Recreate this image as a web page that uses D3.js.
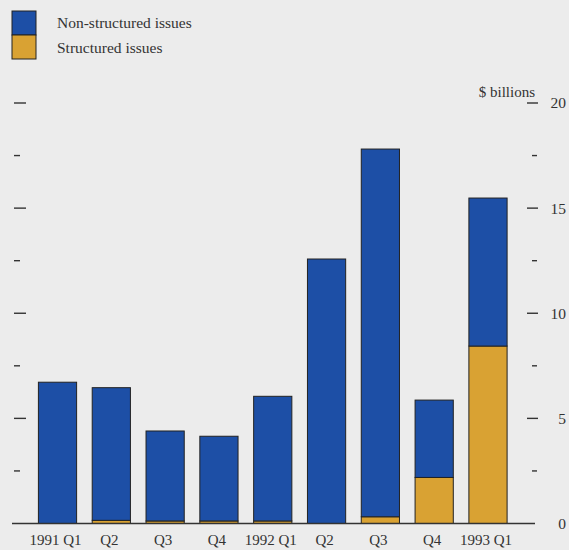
<!DOCTYPE html>
<html>
<head>
<meta charset="utf-8">
<script src="https://cdn.jsdelivr.net/npm/d3@7"></script>
<style>
  html, body { margin: 0; padding: 0; background: #ececec; }
  svg { display: block; font-family: "Liberation Serif", "Times New Roman", serif; }
</style>
</head>
<body>
<svg id="chart" width="569" height="550"></svg>
<script>
// Quarterly issuance, $ billions
const quarters = ["1991 Q1", "Q2", "Q3", "Q4", "1992 Q1", "Q2 ", "Q3 ", "Q4 ", "1993 Q1"];
const nonStructured = [6.72, 6.31, 4.28, 4.03, 5.93, 12.58, 17.49, 3.68, 7.04];
const structured = [0, 0.15, 0.12, 0.12, 0.12, 0, 0.32, 2.19, 8.44];
const seriesNames = ["Non-structured issues", "Structured issues"];
const majorTicks = [0, 5, 10, 15, 20];
const minorTicks = [2.5, 7.5, 12.5, 17.5];

const colors = { "Structured issues": "#d9a233", "Non-structured issues": "#1d4fa6" };
const ink = "#333";

const svg = d3.select("#chart");

const x = d3.scaleBand()
  .domain(quarters)
  .range([30.6, 514.9])
  .paddingInner(0.29)
  .paddingOuter(0.145);

const y = d3.scaleLinear().domain([0, 20]).range([523.5, 103]);

// Stack: structured at the bottom, non-structured on top
const rows = quarters.map((q, i) => ({
  q,
  "Structured issues": structured[i],
  "Non-structured issues": nonStructured[i]
}));
const stack = d3.stack().keys(["Structured issues", "Non-structured issues"])(rows);

svg.append("g")
  .selectAll("g")
  .data(stack)
  .join("g")
  .attr("fill", d => colors[d.key])
  .selectAll("rect")
  .data(d => d.filter(s => s[1] - s[0] > 0))
  .join("rect")
  .attr("x", d => x(d.data.q))
  .attr("width", x.bandwidth())
  .attr("y", d => y(d[1]))
  .attr("height", d => y(d[0]) - y(d[1]))
  .attr("stroke", "#222")
  .attr("stroke-width", 1);

// Baseline
svg.append("line")
  .attr("x1", 12).attr("x2", 535)
  .attr("y1", y(0)).attr("y2", y(0))
  .attr("stroke", ink).attr("stroke-width", 1.3);

// Left tick marks (no labels)
const leftTicks = svg.append("g").attr("stroke", ink).attr("stroke-width", 1.4);
leftTicks.selectAll(".maj").data(majorTicks.filter(v => v > 0)).join("line")
  .attr("x1", 14).attr("x2", 26)
  .attr("y1", d => y(d)).attr("y2", d => y(d));
leftTicks.selectAll(".min").data(minorTicks).join("line")
  .attr("x1", 14).attr("x2", 20)
  .attr("y1", d => y(d)).attr("y2", d => y(d));

// Right axis: ticks and labels
const rightTicks = svg.append("g").attr("stroke", ink).attr("stroke-width", 1.4);
rightTicks.selectAll(".maj").data(majorTicks.filter(v => v > 0)).join("line")
  .attr("x1", 527).attr("x2", 538)
  .attr("y1", d => y(d)).attr("y2", d => y(d));
rightTicks.selectAll(".min").data(minorTicks).join("line")
  .attr("x1", 532).attr("x2", 537)
  .attr("y1", d => y(d)).attr("y2", d => y(d));

svg.append("g")
  .selectAll("text")
  .data(majorTicks)
  .join("text")
  .attr("x", 566)
  .attr("y", d => y(d))
  .attr("dy", "0.35em")
  .attr("text-anchor", "end")
  .attr("fill", ink)
  .attr("font-size", 15.5)
  .text(d => d);

svg.append("text")
  .attr("x", 535).attr("y", 97)
  .attr("text-anchor", "end")
  .attr("fill", ink)
  .attr("font-size", 15)
  .text("$ billions");

// Category labels
svg.append("g")
  .selectAll("text")
  .data(quarters)
  .join("text")
  .attr("x", d => x(d) + x.bandwidth() / 2 - 2)
  .attr("y", 545)
  .attr("text-anchor", "middle")
  .attr("fill", ink)
  .attr("font-size", 15)
  .text(d => d.trim());

// Legend
const legend = svg.append("g");
seriesNames.forEach((name, i) => {
  legend.append("rect")
    .attr("x", 12).attr("y", 11 + i * 24)
    .attr("width", 24).attr("height", 24)
    .attr("fill", colors[name])
    .attr("stroke", "#222").attr("stroke-width", 1);
  legend.append("text")
    .attr("x", 57).attr("y", 28 + i * 24.5)
    .attr("fill", ink)
    .attr("font-size", 15.5)
    .text(name);
});
</script>
</body>
</html>
